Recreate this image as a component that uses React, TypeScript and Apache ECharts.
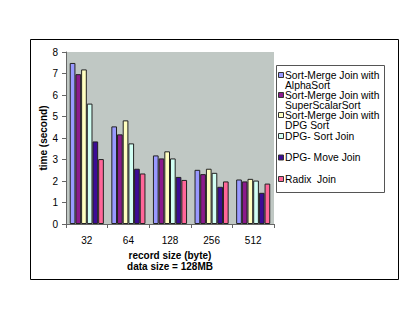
import React, { useEffect, useRef } from "react";
import * as echarts from "echarts";

const categories = ["32", "64", "128", "256", "512"];
const seriesNames = [
  "Sort-Merge Join with\nAlphaSort",
  "Sort-Merge Join with\nSuperScalarSort",
  "Sort-Merge Join with\nDPG Sort",
  "DPG- Sort Join",
  "DPG- Move Join",
  "Radix  Join",
];
const alphaSort = [7.49, 4.54, 3.19, 2.52, 2.07];
const superScalarSort = [6.97, 4.17, 3.05, 2.32, 1.98];
const dpgSortMerge = [7.19, 4.82, 3.38, 2.57, 2.1];
const dpgSortJoin = [5.6, 3.75, 3.05, 2.38, 2.02];
const dpgMoveJoin = [3.84, 2.57, 2.19, 1.73, 1.45];
const radixJoin = [3.02, 2.35, 2.05, 1.98, 1.88];
const seriesValues = [alphaSort, superScalarSort, dpgSortMerge, dpgSortJoin, dpgMoveJoin, radixJoin];
const colors = ["#9999FF", "#8C1A8C", "#FFFFC0", "#D2FFF4", "#3C0C96", "#FF6699"];
const yTicks = [0, 1, 2, 3, 4, 5, 6, 7, 8];

const FONT = "'Liberation Sans', Arial, sans-serif";

export default function App() {
  const ref = useRef<HTMLDivElement>(null);
  useEffect(() => {
    document.body.style.margin = "0";
    const chart = echarts.init(ref.current!, null, { renderer: "svg" });
    const legendTops = [75, 95, 115, 136, 157.5, 179];
    const legendGraphics: any[] = [
      {
        type: "rect",
        shape: { x: 276.5, y: 65.5, width: 108, height: 127 },
        style: { fill: "#ffffff", stroke: "#555555", lineWidth: 1 },
        z: 10,
      },
    ];
    seriesNames.forEach((name, i) => {
      legendGraphics.push({
        type: "rect",
        shape: { x: 278.5, y: legendTops[i] - 2.5, width: 5, height: 5 },
        style: { fill: colors[i], stroke: "#333333", lineWidth: 1 },
        z: 11,
      });
      legendGraphics.push({
        type: "text",
        x: 285,
        y: legendTops[i] - 5,
        style: {
          text: name,
          fill: "#000000",
          fontSize: 10.3,
          fontFamily: FONT,
          lineHeight: 10,
          verticalAlign: "top",
        },
        z: 11,
      });
    });
    chart.setOption({
      animation: false,
      backgroundColor: "#ffffff",
      textStyle: { fontFamily: FONT },
      grid: {
        left: 66,
        top: 52,
        right: 141,
        bottom: 97,
        show: true,
        backgroundColor: "#C0C8C4",
        borderWidth: 0,
      },
      xAxis: {
        type: "category",
        data: categories,
        axisLine: { lineStyle: { color: "#666666", width: 1 } },
        axisTick: { show: true, alignWithLabel: false, length: 4, lineStyle: { color: "#666666" } },
        axisLabel: { color: "#000000", fontSize: 10, margin: 11, fontFamily: FONT },
        name: "record size (byte)\ndata size = 128MB",
        nameLocation: "middle",
        nameGap: 26,
        nameMoveOverlap: false,
        nameTextStyle: { fontWeight: "bold", fontSize: 10, lineHeight: 11, color: "#000", fontFamily: FONT },
      },
      yAxis: {
        type: "value",
        min: 0,
        max: yTicks[yTicks.length - 1],
        interval: 1,
        axisLine: { show: true, lineStyle: { color: "#666666", width: 1 } },
        axisTick: { show: true, length: 4, lineStyle: { color: "#666666" } },
        splitLine: { show: false },
        axisLabel: { color: "#000000", fontSize: 10, margin: 8, fontFamily: FONT },
        name: "time (second)",
        nameLocation: "middle",
        nameGap: 18,
        nameMoveOverlap: false,
        nameTextStyle: { fontWeight: "bold", fontSize: 10, color: "#000", fontFamily: FONT },
      },
      series: seriesValues.map((vals, i) => ({
        type: "bar",
        name: seriesNames[i],
        data: vals,
        barGap: "0%",
        barCategoryGap: "18%",
        itemStyle: { color: colors[i], borderColor: "#222222", borderWidth: 1 },
      })),
      graphic: [
        {
          type: "rect",
          shape: { x: 30.5, y: 39.5, width: 368, height: 240 },
          style: { fill: "none", stroke: "#000000", lineWidth: 1 },
          z: -1,
          silent: true,
        },
        ...legendGraphics,
      ],
    });
    return () => chart.dispose();
  }, []);
  return <div ref={ref} style={{ width: 415, height: 321 }} />;
}
